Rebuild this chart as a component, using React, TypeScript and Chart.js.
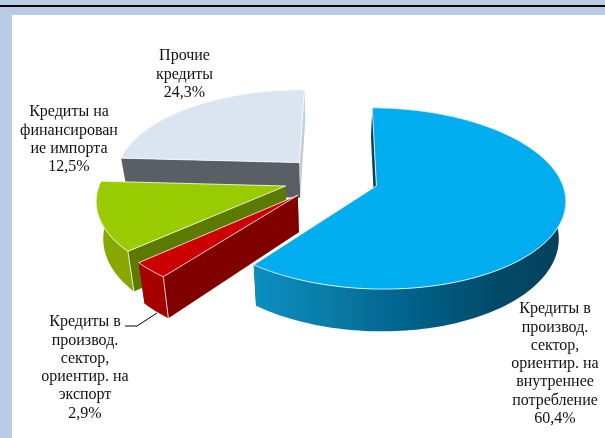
import React, { useEffect, useRef } from "react";
import { Chart, registerables } from "chart.js";

Chart.register(...registerables);

const categories = [
  "Кредиты в производ. сектор, ориентир. на внутреннее потребление",
  "Кредиты в производ. сектор, ориентир. на экспорт",
  "Кредиты на финансирование импорта",
  "Прочие кредиты",
];
const shares = [60.4, 2.9, 12.5, 24.3];
const topColors = ["#00aeef", "#cc0000", "#99cc00", "#dbe5f1"];
const outerColors = ["#0a7aa6", "#a60000", "#86a800", "#c8d2dd"];
const startWallColors = ["#0c4258", "#800000", "#5c7a00", "#5a5f65"];
const endWallColors = ["#0c4258", "#800000", "#5c7a00", "#c4ced9"];
const paintOrder = [3, 2, 1, 0];

const labelLines = [
  ["Кредиты в", "производ.", "сектор,", "ориентир. на", "внутреннее", "потребление", "60,4%"],
  ["Кредиты в", "производ.", "сектор,", "ориентир. на", "экспорт", "2,9%"],
  ["Кредиты на", "финансирован", "ие импорта", "12,5%"],
  ["Прочие", "кредиты", "24,3%"],
];
const labelCentres = [
  [555, 309],
  [85, 322],
  [69, 112],
  [184.5, 56],
];

const W = 605;
const H = 438;
const VIEW = { x0: 331, y0: 178.5, tilt: 0.471, persp: 0.00074, depth: 36, shrink: 0.03 };

type P = [number, number];
const project = (px: number, py: number, h: number): P => {
  const s = 1 / (1 - VIEW.persp * py);
  return [
    VIEW.x0 + px * s * (1 - h * VIEW.shrink),
    VIEW.y0 + VIEW.tilt * py * s + h * VIEW.depth * s,
  ];
};

const poly = (ctx: CanvasRenderingContext2D, pts: P[]) => {
  ctx.beginPath();
  pts.forEach((p, i) => (i ? ctx.lineTo(p[0], p[1]) : ctx.moveTo(p[0], p[1])));
  ctx.closePath();
};
const area = (pts: P[]) =>
  pts.reduce((a, p, i) => {
    const q = pts[(i + 1) % pts.length];
    return a + p[0] * q[1] - q[0] * p[1];
  }, 0);

const pie3d = {
  id: "pie3d",
  beforeDraw(chart: any) {
    const c: CanvasRenderingContext2D = chart.ctx;
    c.save();
    c.fillStyle = "#b8cce4";
    c.fillRect(0, 0, W, H);
    c.fillStyle = "#000000";
    c.fillRect(0, 5, W, 2);
    c.fillStyle = "#ffffff";
    c.fillRect(12, 15, W - 12, H - 15);
    c.restore();
  },
  beforeDatasetDraw(chart: any) {
    const c: CanvasRenderingContext2D = chart.ctx;
    const arcs = chart.getDatasetMeta(0).data;
    const edge = "rgba(255,255,255,0.8)";
    c.save();
    c.lineJoin = "round";
    for (const i of paintOrder) {
      const el = arcs[i];
      const { startAngle, endAngle, outerRadius } = el;
      const off = el.options.offset;
      const mid = (startAngle + endAngle) / 2;
      const ex = off * Math.cos(mid);
      const ey = off * Math.sin(mid);
      const ring = (h: number) => {
        const out: P[] = [];
        const n = Math.max(8, Math.ceil((endAngle - startAngle) * 40));
        for (let k = 0; k <= n; k++) {
          const a = startAngle + ((endAngle - startAngle) * k) / n;
          out.push(project(ex + outerRadius * Math.cos(a), ey + outerRadius * Math.sin(a), h));
        }
        return out;
      };
      const top = ring(0);
      const bot = ring(1);
      const at = project(ex, ey, 0);
      const ab = project(ex, ey, 1);
      const startWall: P[] = [at, top[0], bot[0], ab];
      const endWall: P[] = [at, top[top.length - 1], bot[bot.length - 1], ab];
      const startVisible = area(startWall) < 0;
      const endVisible = area(endWall) > 0;
      const wall = (pts: P[], col: string) => {
        poly(c, pts);
        c.fillStyle = col;
        c.fill();
      };
      if (!startVisible) wall(startWall, startWallColors[i]);
      if (!endVisible) wall(endWall, endWallColors[i]);
      // outer rim
      poly(c, [...top, ...bot.slice().reverse()]);
      if (i === 0) {
        const g = c.createLinearGradient(255, 0, 565, 0);
        g.addColorStop(0, "#0a8fc0");
        g.addColorStop(0.25, "#0a7aa6");
        g.addColorStop(0.5, "#00628a");
        g.addColorStop(0.78, "#034a68");
        g.addColorStop(1, "#04405a");
        c.fillStyle = g;
      } else {
        c.fillStyle = outerColors[i];
      }
      c.fill();
      if (startVisible) wall(startWall, startWallColors[i]);
      if (endVisible) wall(endWall, endWallColors[i]);
      // vertical corner edges
      c.strokeStyle = edge;
      c.lineWidth = 1;
      if (i !== 0 && i !== 3) {
        c.beginPath();
        c.moveTo(top[0][0], top[0][1]);
        c.lineTo(bot[0][0], bot[0][1]);
        c.stroke();
      }
      // top face
      poly(c, [at, ...top]);
      c.fillStyle = el.options.backgroundColor;
      c.fill();
      c.stroke();
    }
    c.restore();
    return false;
  },
  afterDatasetsDraw(chart: any) {
    const c: CanvasRenderingContext2D = chart.ctx;
    c.save();
    c.strokeStyle = "#000000";
    c.lineWidth = 1;
    c.beginPath();
    c.moveTo(125, 326);
    c.lineTo(137, 326);
    c.lineTo(157, 313);
    c.stroke();
    c.fillStyle = "#111111";
    c.font = '16px "Liberation Serif"';
    c.textAlign = "center";
    c.textBaseline = "middle";
    labelLines.forEach((lines, i) => {
      lines.forEach((t, j) => {
        c.fillText(t, labelCentres[i][0], labelCentres[i][1] + j * 18.3);
      });
    });
    c.restore();
  },
};

export default function App() {
  const ref = useRef<HTMLCanvasElement>(null);
  useEffect(() => {
    const chart = new Chart(ref.current!, {
      type: "pie",
      data: {
        labels: categories,
        datasets: [
          {
            data: shares,
            backgroundColor: topColors,
            borderWidth: 0,
            offset: 47.5,
          },
        ],
      },
      options: {
        animation: false,
        responsive: false,
        rotation: 0.5,
        radius: 184.5,
        events: [],
        layout: { padding: 0 },
        plugins: { legend: { display: false }, tooltip: { enabled: false }, title: { display: false } },
      },
      plugins: [pie3d],
    } as any);
    return () => chart.destroy();
  }, []);
  return (
    <div style={{ position: "fixed", left: 0, top: 0, width: W, height: H }}>
      <canvas ref={ref} width={W} height={H} style={{ display: "block", width: W, height: H }} />
    </div>
  );
}
